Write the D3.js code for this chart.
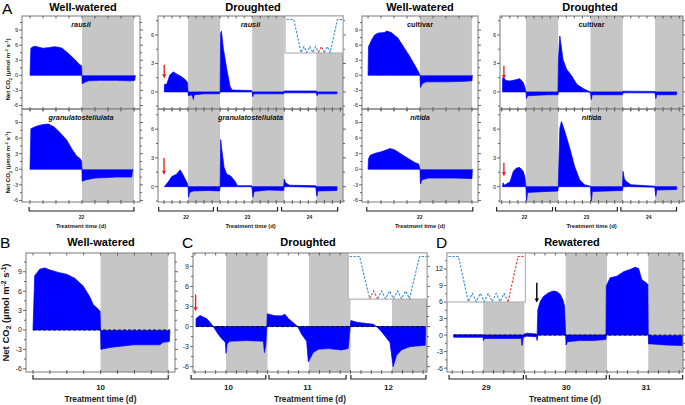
<!DOCTYPE html>
<html>
<head>
<meta charset="utf-8">
<script src="https://cdnjs.cloudflare.com/ajax/libs/d3/7.8.5/d3.min.js"></script>
<style>
body { margin: 0; background: #fff; }
svg { display: block; font-family: "Liberation Sans", Arial, sans-serif; }
</style>
</head>
<body>
<div id="fig"></div>
<script>
// hours from lights-on of the first day shown; each point is [hour, upper, lower]
var darkPeriods = [[12, 24], [36, 48], [60, 72]];

var yTicksWide = [-6, -3, 0, 3, 6, 9];
var yTicksDry = [0, 3, 6];
var yTicksRewet = [-6, -3, 0, 3, 6, 9, 12];

var daysA = ["22"];
var daysAdry = ["22", "23", "24"];
var daysB = ["10"];
var daysC = ["10", "11", "12"];
var daysD = ["29", "30", "31"];

var bracketsA1 = [[-0.2, 24]];
var bracketsA3 = [[-0.3, 24.2]];
var bracketsA2 = [[1, 21.5], [23, 45.5], [47, 68]];
var bracketsA4 = [[1.1, 21.9], [23, 46], [47.3, 68]];
var bracketsB = [[0, 24]];
var bracketsC = [[1.9, 23.5], [24.4, 46.7], [48.1, 69.8]];
var bracketsD = [[2.1, 23.7], [24.5, 47.8], [48.7, 70]];

var rausiiWW = [[0,0,0],[0.2,5.4,0],[0.7,5.7,0],[1.2,5.8,0],[2,5.6,0],[3,5.4,0],[4.2,5.5,0],[5.6,5.7,0],
  [6.6,5.6,0],[7.4,5.4,0],[8.8,4.4,0],[10.4,3.1,0],[11.5,2.1,0],[11.9,1.9,0],[12,0,0],[12.05,-0.1,-1.7],
  [12.6,-0.1,-1.4],[13.5,-0.1,-1.1],[16,-0.1,-1.0],[20,-0.1,-1.0],[23,-0.1,-1.1],[24.2,-0.1,-1.0],[24.3,0,0]];
var granWW = [[0,0,0],[0.2,7.8,0],[0.7,8.0,0],[1.5,8.3,0],[3,8.6,0],[4.2,8.7,0],[5.5,8.2,0],[6.9,7.1,0],
  [8.5,5.6,0],[9.6,4.0,0],[10.8,2.5,0],[11.5,2.1,0],[11.9,1.6,0],[12,0,0],[12.05,-0.1,-2.3],[13,-0.1,-2.0],
  [15,-0.1,-1.7],[20,-0.1,-1.5],[23.5,-0.1,-1.5],[23.7,0,0]];
var cultivarWW = [[0,0,0],[0.1,5.7,0],[0.8,7.0,0],[1.5,8.0,0],[2.3,8.4,0],[3.8,8.5,0],[4.3,8.8,0],[5.4,8.5,0],
  [6.9,7.4,0],[8.4,5.4,0],[9.6,3.8,0],[10.8,2.0,0],[11.7,0.6,0],[12,0,0],[12.1,-0.1,-2.4],[12.6,-0.1,-1.6],
  [13.5,-0.1,-1.3],[18,-0.1,-1.3],[22,-0.1,-1.2],[24,-0.1,-1.1],[24.1,0,0]];
var nitidaWW = [[0,0,0],[0.1,2.0,0],[0.5,2.7,0],[1.7,3.1,0],[3.2,3.4,0],[5.1,4.0,0],[6.2,3.7,0],[7.7,2.9,0],
  [9.2,2.1,0],[10.8,1.3,0],[11.7,1.0,0],[12,0,0],[12.1,-0.1,-2.8],[12.5,-0.1,-2.0],[14,-0.1,-1.7],
  [20,-0.1,-1.7],[24,-0.1,-1.8],[24.1,0,0]];

var rausiiDry = [[3.1,0,0],[3.15,0.8,0],[4.0,0.8,0],[5.2,1.8,0],[6.5,2.1,0],[7.7,1.9,0],[9.6,1.6,0],[10.9,1.3,0],
  [11.8,1.0,0],[12,0,0],[12.1,0,-0.4],[13.5,0,-0.3],[14,0,-0.8],[14.3,0,-0.3],[18,0,-0.2],[23.8,0,-0.2],[24,0,0],
  [24.2,6.2,0],[24.5,6.4,0],[25.2,4.6,0],[26.5,2.4,0],[27.7,0.6,0],[28.5,0.2,0],[35.8,0.15,0],[36,0,0],
  [36.2,0,-0.5],[36.6,0,-0.2],[47.8,0,-0.2],[48,0.1,-0.1],[60,0.1,-0.1],[60.3,0,-0.4],[60.6,0,-0.2],
  [67.7,0,-0.2],[67.8,0,0]];
var granDry = [[3.1,0,0],[4.6,0.5,0],[5.9,1.05,0],[7.7,1.3,0],[9.0,1.75,0],[9.6,1.5,0],[10.9,0.8,0],[11.8,0.3,0],
  [12,0,0],[12.2,0,-1.1],[12.6,0,-0.6],[14,0,-0.45],[20,0,-0.4],[23.8,0,-0.45],[24,0,0],[24.2,4.9,0],
  [24.8,3.5,0],[25.5,2.0,0],[26.5,1.3,0],[28,1.1,0],[29.5,0.6,0],[30.5,0.1,0],[35.8,0.1,0],[36,0,-0.3],
  [36.3,0,-1.1],[36.7,0,-0.5],[42,0,-0.35],[47.8,0,-0.4],[48,0.8,0],[48.5,0.4,0],[50,0.15,0],
  [59.8,0.1,-0.05],[60.2,0,-1.0],[60.6,0,-0.45],[67.7,0,-0.4],[67.8,0,0]];
var cultivarDry = [[3.3,0,0],[3.35,1.5,0],[3.8,1.5,0],[4.5,1.2,0],[6.1,1.15,0],[8.5,1.3,0],[9.7,1.4,0],[11,1.0,0],
  [11.6,0.5,0],[12,0,0],[12.2,0,-0.7],[12.6,0,-0.4],[20,0,-0.3],[23.9,0,-0.3],[24.1,3.5,0],[24.6,5.9,0],
  [25.8,3.4,0],[27.1,2.4,0],[29,1.7,0],[30.9,0.8,0],[33.3,0.35,0],[35.1,0.1,0],[36,0,-0.1],[36.3,0,-0.8],
  [36.6,0,-0.3],[47.9,0,-0.3],[48,0.08,-0.1],[60,0.05,-0.1],[60.3,0,-0.7],[60.6,0,-0.3],[68,0,-0.3],[68.1,0,0]];
var nitidaDry = [[3.3,0,0],[3.5,0.4,0],[3.9,0.15,0],[6.1,0.5,0],[7.3,1.6,0],[8.5,1.95,0],[9.7,2.0,0],[11,1.6,0],
  [11.6,1.0,0],[12,0,0],[12.2,0,-1.5],[12.6,0,-0.6],[20,0,-0.5],[23.9,0,-0.45],[24,0,0],[24.6,6.1,0],
  [25.2,6.8,0],[26.4,5.8,0],[28.3,4.0,0],[30.1,2.1,0],[32,0.7,0],[33.8,0.2,0],[36,0.05,0],[36.3,0,-1.5],
  [36.7,0,-0.5],[47.9,0,-0.4],[48.1,1.6,0],[48.6,0.8,0],[49.5,0.5,0],[51,0.2,0],[59.9,0.05,-0.05],
  [60.3,0,-1.0],[60.6,0,-0.35],[68,0,-0.3],[68.1,0,0]];

var wellWateredB = [[0,0,0],[0.3,8.4,0],[1.2,9.4,0],[2.1,9.6,0],[2.9,9.3,0],[4.5,8.9,0],[6.0,8.6,0],[7.4,8.0,0],
  [8.9,6.8,0],[10.1,5.1,0],[10.7,3.9,0],[11.6,3.2,0],[11.9,2.9,0],[12,0,0],[12.05,-0.1,-3.0],[13.7,-0.1,-2.7],
  [17.8,-0.1,-2.3],[22.5,-0.1,-2.3],[23.1,-0.1,-1.9],[24.2,-0.1,-1.8],[24.3,0,0]];
var droughtC = [[3.3,0,0],[3.35,1.2,0],[4.5,1.65,0],[5.5,1.4,0],[6.4,1.2,0],[7.4,0.6,0],[8.3,0,0],[8.8,0,-0.4],
  [9.8,0,-1.2],[10.7,0,-1.8],[11.5,0,-2.2],[11.8,0,-2.4],[12,0,-4.0],[12.3,0,-2.6],[13,0,-2.2],[18,0,-2.1],
  [22.8,0,-2.2],[23.1,0,-3.9],[23.5,0,-2.8],[23.8,0,0],[23.9,1.9,0],[24.7,1.8,0],[26.2,1.6,0],[28.1,1.6,0],
  [29,1.85,0],[30,1.2,0],[31.4,0.6,0],[32.7,0,0],[33.9,0,-1.2],[35.3,0,-2.2],[35.8,0,-5.3],[37.2,0,-3.9],
  [38.7,0,-3.4],[41.6,0,-3.3],[45.4,0,-3.5],[47.3,0,-3.3],[47.9,0,0],[48.1,0.9,0],[49.8,0.65,0],
  [52.7,0.45,0],[54.6,0.35,0],[55.5,0,0],[57,0,-0.8],[58.4,0,-1.7],[59.4,0,-2.4],[60.3,0,-6.0],
  [61.3,0,-4.3],[62.7,0,-3.5],[65.2,0,-3.0],[69.6,0,-2.8],[69.7,0,0]];
var rewateredD = [[3.4,0,0],[3.45,0.05,-0.4],[12,0.05,-0.4],[12.1,0,-1.0],[12.4,0,-0.6],[18,0,-0.6],[23.1,0,-0.6],
  [23.3,0,-1.9],[23.6,0,-0.6],[24,0.2,-0.3],[24.7,0.35,-0.2],[27.5,0.2,-0.3],[27.7,0,-1.0],[27.9,4.6,0],
  [28.6,6.1,0],[29.5,7.0,0],[31,7.7,0],[32.4,8.0,0],[33.4,7.9,0],[34.4,7.4,0],[35.2,6.4,0],[35.7,5.2,0],
  [36,0,0],[36.1,0,-1.8],[36.5,0,-1.2],[40,0,-1.0],[44,0,-1.0],[47.7,0,-0.8],[47.8,8.9,0],[48.9,10.4,0],
  [50.9,10.7,0],[52.8,11.5,0],[54.7,11.9,0],[56.2,12.3,0],[57.2,12.1,0],[58.1,10.1,0],[59.6,9.4,0],
  [59.9,9.2,0],[60,0,0],[60.1,0,-1.6],[61,-0.1,-1.6],[65,-0.1,-1.8],[70,-0.1,-1.9]];

// soil water schematic: flat, dry-down, five wet/dry cycles, re-watering
var insetShape = [[0,1],[1,1],[2,0],[2.4,0.18],[2.8,0],[3.2,0.18],[3.6,0],[4,0.18],[4.4,0],
  [4.8,0.18],[5.2,0],[5.6,0.18],[6,0],[7,1],[7.7,1]];

var svg = d3.select("#fig").append("svg")
  .attr("width", 685)
  .attr("height", 405);

var clipN = 0;

var addArrow = function(px, yTop, yTip, color) {
  svg.append("line")
    .attr("x1", px).attr("x2", px)
    .attr("y1", yTop).attr("y2", yTip - 3)
    .attr("stroke", color).attr("stroke-width", 1.4);
  svg.append("path")
    .attr("d", "M" + (px - 2.2) + "," + (yTip - 4) + "L" + (px + 2.2) + "," + (yTip - 4) + "L" + px + "," + yTip + "Z")
    .attr("fill", color);
};

var addInset = function(x, y, box, red) {
  var bx0 = x(box[0]), bx1 = x(box[1]), by0 = y(box[3]), by1 = y(box[2]);
  svg.append("rect")
    .attr("x", bx0).attr("y", by0)
    .attr("width", bx1 - bx0).attr("height", by1 - by0)
    .attr("fill", "#fff").attr("stroke", "#b4b4b4").attr("stroke-width", 1.2);
  var ix = d3.scaleLinear().domain([0, 7.7]).range([bx0 + 1.5, bx1 - 0.5]);
  var iy = d3.scaleLinear().domain([0, 1]).range([by1 - 0.5, by0 + 3.5]);
  var line = d3.line().x(function(d) { return ix(d[0]); }).y(function(d) { return iy(d[1]); });
  // split the schematic into runs of one colour
  var runs = [];
  for (var i = 0; i < insetShape.length - 1; i++) {
    var a = insetShape[i], b = insetShape[i + 1];
    var isRed = a[0] >= red[0] - 1e-6 && b[0] <= red[1] + 1e-6;
    var last = runs[runs.length - 1];
    if (last && last.red === isRed) last.pts.push(b);
    else runs.push({red: isRed, pts: [a, b]});
  }
  runs.forEach(function(r) {
    svg.append("path")
      .attr("d", line(r.pts))
      .attr("fill", "none")
      .attr("stroke", r.red ? "#ee3b3b" : "#3f8fd6")
      .attr("stroke-width", 1.1)
      .attr("stroke-dasharray", "2.4,1.4");
  });
};

var netCO2Label = function(cx, cy, size) {
  var t = svg.append("text")
    .attr("transform", "translate(" + cx + "," + cy + ") rotate(-90)")
    .attr("text-anchor", "middle")
    .attr("font-size", size)
    .attr("font-weight", "bold")
    .attr("fill", "#111");
  t.append("tspan").text("Net CO");
  t.append("tspan").attr("font-size", size * 0.7).attr("dy", size * 0.25).text("2");
  t.append("tspan").attr("dy", -size * 0.25).text(" (\u00b5mol m");
  t.append("tspan").attr("font-size", size * 0.7).attr("dy", -size * 0.35).text("-2");
  t.append("tspan").attr("dy", size * 0.35).text(" s");
  t.append("tspan").attr("font-size", size * 0.7).attr("dy", -size * 0.35).text("-1");
  t.append("tspan").attr("dy", size * 0.35).text(")");
};

var drawPlot = function(p) {
  var x = d3.scaleLinear().domain(p.xDom).range([p.x0, p.x1]);
  var xTicks = d3.range(Math.ceil(p.xDom[0] / 3) * 3, p.xDom[1], 3);
  var scales = [];

  p.rows.forEach(function(r, ri) {
    var y = d3.scaleLinear().domain(r.yDom).range([r.y1, r.y0]);
    scales.push(y);
    var id = "clip" + (clipN++);
    svg.append("clipPath").attr("id", id)
      .append("rect")
      .attr("x", p.x0).attr("y", r.y0)
      .attr("width", p.x1 - p.x0).attr("height", r.y1 - r.y0);
    var inner = svg.append("g").attr("clip-path", "url(#" + id + ")");

    inner.selectAll("rect")
      .data(darkPeriods)
      .enter().append("rect")
      .attr("x", function(d) { return x(d[0]); })
      .attr("width", function(d) { return x(d[1]) - x(d[0]); })
      .attr("y", r.y0)
      .attr("height", r.y1 - r.y0)
      .attr("fill", "#c6c6c6");

    var area = d3.area()
      .x(function(d) { return x(d[0]); })
      .y0(function(d) { return y(d[2]); })
      .y1(function(d) { return y(d[1]); });
    inner.append("path")
      .datum(r.trace)
      .attr("d", area)
      .attr("fill", "#0000ff")
      .attr("stroke", "#0000ff")
      .attr("stroke-width", 0.7);

    if (p.zeroLine) {
      var ext = d3.extent(r.trace, function(d) { return d[0]; });
      inner.append("line")
        .attr("x1", x(ext[0])).attr("x2", x(ext[1]))
        .attr("y1", y(0)).attr("y2", y(0))
        .attr("stroke", "#000").attr("stroke-width", 0.9)
        .attr("stroke-dasharray", "3,2");
    }

    svg.append("rect")
      .attr("x", p.x0).attr("y", r.y0)
      .attr("width", p.x1 - p.x0).attr("height", r.y1 - r.y0)
      .attr("fill", "none").attr("stroke", "#7a7a7a").attr("stroke-width", 1);

    // y ticks, major labelled every 3, minor in between
    var minor = d3.range(Math.ceil(r.yDom[0] / 1.5) * 1.5, r.yDom[1], 1.5);
    var tk = svg.append("g").attr("stroke", "#444").attr("stroke-width", 0.8);
    minor.forEach(function(v) {
      var len = (Math.abs(v % 3) < 1e-6) ? 3 : 2;
      tk.append("line").attr("x1", p.x0 - len).attr("x2", p.x0).attr("y1", y(v)).attr("y2", y(v));
      tk.append("line").attr("x1", p.x1).attr("x2", p.x1 + len).attr("y1", y(v)).attr("y2", y(v));
    });
    xTicks.forEach(function(t) {
      tk.append("line").attr("x1", x(t)).attr("x2", x(t)).attr("y1", r.y0).attr("y2", r.y0 + 2.5);
      tk.append("line").attr("x1", x(t)).attr("x2", x(t)).attr("y1", r.y1 - 2).attr("y2", r.y1 + 2);
    });

    svg.append("g").selectAll("text")
      .data(r.ticks)
      .enter().append("text")
      .attr("x", p.x0 - 4)
      .attr("y", function(d) { return y(d); })
      .attr("dy", "0.35em")
      .attr("text-anchor", "end")
      .attr("font-size", p.tickSize)
      .attr("fill", "#222")
      .text(function(d) { return d < 0 ? "-" + Math.abs(d) : d; });

    if (r.name) {
      svg.append("text")
        .attr("x", (p.x0 + p.x1) / 2)
        .attr("y", r.y0 + 8)
        .attr("dy", "0.35em")
        .attr("text-anchor", "middle")
        .attr("font-size", 7.3)
        .attr("font-weight", "bold")
        .attr("font-style", r.italic ? "italic" : "normal")
        .attr("fill", "#111")
        .text(r.name);
    }
    if (p.yTitle) netCO2Label(p.yTitleX, (r.y0 + r.y1) / 2 + p.yTitleShift, p.yTitleSize);
  });

  // day brackets under the last row
  var yb = p.bracketY;
  p.brackets.forEach(function(b, i) {
    svg.append("path")
      .attr("d", "M" + x(b[0]) + "," + (yb - 4) + "V" + yb + "H" + x(b[1]) + "V" + (yb - 4))
      .attr("fill", "none").attr("stroke", "#222").attr("stroke-width", 1.2);
    svg.append("text")
      .attr("x", (x(b[0]) + x(b[1])) / 2)
      .attr("y", yb + p.dayDy)
      .attr("text-anchor", "middle")
      .attr("font-size", p.daySize)
      .attr("font-weight", "bold")
      .attr("fill", "#222")
      .text(p.days[i]);
  });
  svg.append("text")
    .attr("x", (p.x0 + p.x1) / 2)
    .attr("y", yb + p.axisDy)
    .attr("text-anchor", "middle")
    .attr("font-size", p.axisSize)
    .attr("font-weight", "bold")
    .attr("fill", "#222")
    .text("Treatment time (d)");

  svg.append("text")
    .attr("x", p.titleX)
    .attr("y", p.titleY)
    .attr("text-anchor", "middle")
    .attr("font-size", 11)
    .attr("font-weight", "bold")
    .attr("fill", "#000")
    .text(p.title);

  return {x: x, y: scales};
};

var smallA = {tickSize: 5.5, daySize: 5, axisSize: 5.8, bracketY: 211, dayDy: 7.5, axisDy: 16.5,
  yTitleX: 10, yTitleSize: 6, titleY: 11};
var bigB = {tickSize: 7, daySize: 8, axisSize: 8.3, bracketY: 379, dayDy: 11, axisDy: 22.5,
  yTitleX: 9, yTitleSize: 9.5, titleY: 246};

var A1 = drawPlot(Object.assign({}, smallA, {x0: 22, x1: 140, xDom: [-1.85, 25.4], yTitle: true, yTitleShift: 7,
  title: "Well-watered", titleX: 83, brackets: bracketsA1, days: daysA,
  rows: [{y0: 16, y1: 109, yDom: [-6.7, 11.8], ticks: yTicksWide, trace: rausiiWW, name: "rausii", italic: true},
         {y0: 109, y1: 202, yDom: [-6.3, 11.6], ticks: yTicksWide, trace: granWW, name: "granulatostellulata", italic: true}]}));

var A2 = drawPlot(Object.assign({}, smallA, {x0: 158, x1: 343, xDom: [0.75, 70],
  title: "Droughted", titleX: 253, brackets: bracketsA2, days: daysAdry,
  rows: [{y0: 16, y1: 109, yDom: [-1.8, 8.0], ticks: yTicksDry, trace: rausiiDry, name: "rausii", italic: true},
         {y0: 109, y1: 202, yDom: [-1.6, 8.1], ticks: yTicksDry, trace: granDry, name: "granulatostellulata", italic: true}]}));

var A3 = drawPlot(Object.assign({}, smallA, {x0: 362, x1: 478, xDom: [-1.4, 25.4],
  title: "Well-watered", titleX: 420, brackets: bracketsA3, days: daysA,
  rows: [{y0: 16, y1: 109, yDom: [-6.7, 11.8], ticks: yTicksWide, trace: cultivarWW, name: "cultivar", italic: false},
         {y0: 109, y1: 202, yDom: [-6.3, 11.6], ticks: yTicksWide, trace: nitidaWW, name: "nitida", italic: true}]}));

var A4 = drawPlot(Object.assign({}, smallA, {x0: 500, x1: 683, xDom: [2.35, 70.4],
  title: "Droughted", titleX: 590, brackets: bracketsA4, days: daysAdry,
  rows: [{y0: 16, y1: 109, yDom: [-1.8, 8.0], ticks: yTicksDry, trace: cultivarDry, name: "cultivar", italic: false},
         {y0: 109, y1: 202, yDom: [-1.6, 8.1], ticks: yTicksDry, trace: nitidaDry, name: "nitida", italic: true}]}));

var B = drawPlot(Object.assign({}, bigB, {x0: 26, x1: 175, xDom: [-1.24, 25.2], yTitle: true, yTitleShift: 0,
  title: "Well-watered", titleX: 101, brackets: bracketsB, days: daysB, zeroLine: true,
  rows: [{y0: 253, y1: 372, yDom: [-6.5, 11.9], ticks: yTicksWide, trace: wellWateredB}]}));

var C = drawPlot(Object.assign({}, bigB, {x0: 193, x1: 427, xDom: [2.45, 70.1],
  title: "Droughted", titleX: 308, brackets: bracketsC, days: daysC, zeroLine: true,
  rows: [{y0: 253, y1: 372, yDom: [-6.8, 11.0], ticks: yTicksWide, trace: droughtC}]}));

var D = drawPlot(Object.assign({}, bigB, {x0: 447, x1: 683, xDom: [1.5, 70.1],
  title: "Rewatered", titleX: 572, brackets: bracketsD, days: daysD, zeroLine: true,
  rows: [{y0: 253, y1: 372, yDom: [-6.7, 14.9], ticks: yTicksRewet, trace: rewateredD}]}));

// soil water insets: [t0, t1, vBottom, vTop]
addInset(A2.x, A2.y[0], [48.3, 70, 4.1, 8.0], [4.4, 5.2]);
addInset(C.x, C.y[0], [47.3, 70.1, 4.1, 11.0], [2.0, 2.8]);
addInset(D.x, D.y[0], [1.5, 24.3, 6.0, 14.9], [6.0, 7.7]);

// first-light arrows
addArrow(A2.x(3.1), A2.y[0](2.85), A2.y[0](1.45), "#e8262a");
addArrow(A2.x(3.0), A2.y[1](3.0), A2.y[1](1.25), "#e8262a");
addArrow(A4.x(3.8), A4.y[0](2.75), A4.y[0](1.35), "#e8262a");
addArrow(A4.x(3.8), A4.y[1](2.5), A4.y[1](1.08), "#e8262a");
addArrow(C.x(3.2), C.y[0](4.8), C.y[0](2.3), "#e8262a");
addArrow(D.x(27.6), D.y[0](9.5), D.y[0](5.9), "#000");

var letters = [["A", 2, 14], ["B", 0, 248], ["C", 182, 248], ["D", 436, 248]];
svg.selectAll("text.panel")
  .data(letters)
  .enter().append("text")
  .attr("class", "panel")
  .attr("x", function(d) { return d[1]; })
  .attr("y", function(d) { return d[2]; })
  .attr("font-size", 15.5)
  .attr("fill", "#000")
  .text(function(d) { return d[0]; });
</script>
</body>
</html>
